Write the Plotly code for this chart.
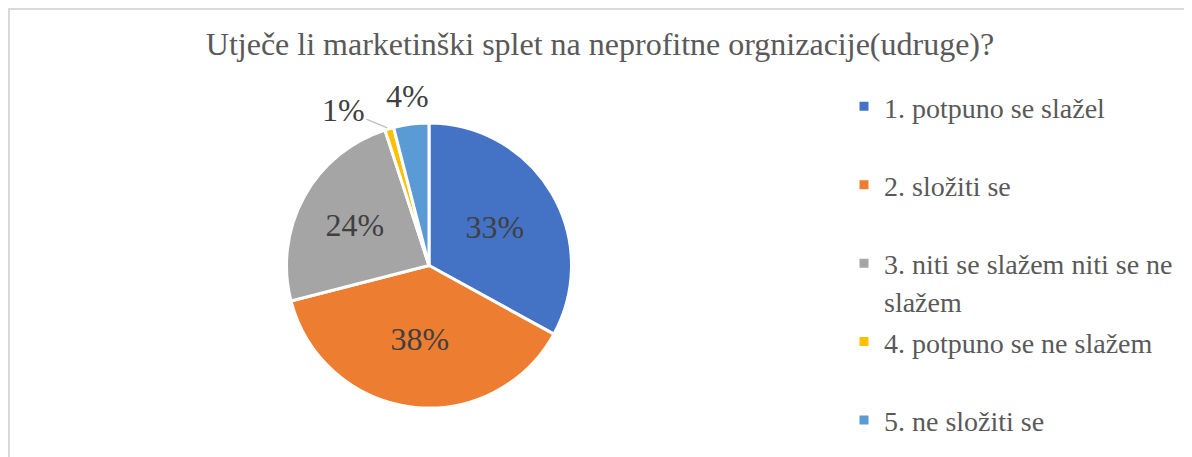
import math
import plotly.graph_objects as go

# podaci
labels = [
    "1. potpuno se slažel",
    "2. složiti se",
    "3. niti se slažem niti se ne<br>slažem",
    "4. potpuno se ne slažem",
    "5. ne složiti se",
]
values = [33, 38, 24, 1, 4]
colors = ["#4472C4", "#ED7D31", "#A5A5A5", "#FFC000", "#5B9BD5"]
inside = [True, True, True, False, False]

# stranica ima 8px margine body-ja, pa je figura za 8px manja
W, H = 1184, 449
M_T, M_B = 115, 49
plot_h = H - M_T - M_B
PIE_CX = 421  # px od lijevog ruba figure
R = plot_h / 2

# jednake visine stavki legende (Excel raspored): svaka stavka ima dva retka
legend_labels = []
for i, lab in enumerate(labels):
    parts = lab.split("<br>")
    if len(parts) == 1 and i < len(labels) - 1:
        parts.append(" ")
    legend_labels.append(
        "<br>".join(f"<span style='font-size:28px'>{p}</span>" for p in parts)
    )

serif = "Liberation Serif"
total = sum(values)
pct_text = [f"{round(100 * v / total)}%" for v in values]

fig = go.Figure(
    go.Pie(
        labels=legend_labels,
        values=values,
        sort=False,
        direction="clockwise",
        rotation=0,
        marker=dict(colors=colors, line=dict(color="white", width=3)),
        text=[t if ins else "" for t, ins in zip(pct_text, inside)],
        textinfo="text",
        textposition="inside",
        insidetextorientation="horizontal",
        textfont=dict(family=serif, size=32, color="#404040"),
        domain=dict(x=[(PIE_CX - R) / W, (PIE_CX + R) / W], y=[0, 1]),
        hoverinfo="percent",
    )
)


def py(px):
    # piksel (od vrha figure) -> paper y
    return (H - M_B - px) / plot_h


def rim_point(idx, extra=0.0):
    # točka na sredini kriške idx, na radijusu R + extra (u paper koordinatama)
    start = sum(values[:idx])
    ang = 2 * math.pi * (start + values[idx] / 2) / total
    rr = R + extra
    x_px = PIE_CX + rr * math.sin(ang)
    y_px = M_T + R - rr * math.cos(ang)
    return x_px / W, py(y_px)


annotations = []
# 1% - s linijom vodiljom
x1, y1 = rim_point(3)
annotations.append(
    dict(
        x=x1, y=y1, xref="paper", yref="paper",
        text=pct_text[3], showarrow=True, arrowhead=0, arrowwidth=1.2,
        arrowcolor="#BFBFBF", ax=-46, ay=-19, standoff=2,
        font=dict(family=serif, size=32, color="#404040"),
    )
)
# 4% - iznad kriške
x4, y4 = rim_point(4, extra=28)
annotations.append(
    dict(
        x=x4, y=y4, xref="paper", yref="paper",
        xanchor="center", yanchor="middle",
        text=pct_text[4], showarrow=False,
        font=dict(family=serif, size=32, color="#404040"),
    )
)

fig.update_layout(
    width=W,
    height=H,
    margin=dict(l=0, r=0, t=M_T, b=M_B),
    paper_bgcolor="white",
    plot_bgcolor="white",
    font=dict(family=serif, color="#595959"),
    title=dict(
        text="Utječe li marketinški splet na neprofitne orgnizacije(udruge)?",
        font=dict(family=serif, size=32, color="#595959"),
        x=0.5,
        xanchor="center",
        y=1 - 36 / H,
        yanchor="middle",
    ),
    legend=dict(
        x=836 / W,
        xanchor="left",
        y=py(73),
        yanchor="top",
        valign="top",
        maxheight=440,
        font=dict(family=serif, size=29, color="#595959"),
        bgcolor="rgba(0,0,0,0)",
    ),
    annotations=annotations,
    shapes=[
        dict(
            type="rect",
            xref="paper",
            yref="paper",
            x0=1 / W,
            x1=1.05,
            y0=py(470),
            y1=py(1),
            line=dict(color="#D9D9D9", width=2),
            fillcolor="rgba(0,0,0,0)",
            layer="below",
        )
    ],
)

fig.write_html("out.html")
